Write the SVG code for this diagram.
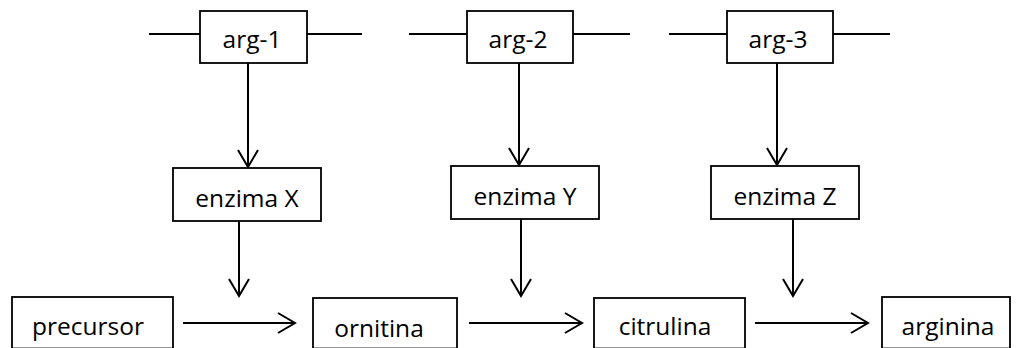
<svg xmlns="http://www.w3.org/2000/svg" width="1016" height="348" viewBox="0 0 1016 348">
<style>
rect{fill:#fff;stroke:#000;stroke-width:1.8}
line,polyline{stroke:#000;stroke-width:2;fill:none}
text{font-family:"Open Sans","Liberation Sans",sans-serif;font-size:24.5px;fill:#000;text-anchor:middle}
</style>
<defs>
<marker id="ah" markerWidth="24" markerHeight="24" refX="20" refY="12" orient="auto" markerUnits="userSpaceOnUse">
<polyline points="3,2 20,12 3,22" style="stroke:#000;stroke-width:2;fill:none"/>
</marker>
</defs>
<g id="connectors">
<line x1="149" y1="34" x2="200" y2="34"/>
<line x1="307" y1="34" x2="362" y2="34"/>
<line x1="409" y1="34" x2="467" y2="34"/>
<line x1="573" y1="34" x2="630" y2="34"/>
<line x1="669" y1="34" x2="727" y2="34"/>
<line x1="833" y1="34" x2="890" y2="34"/>
<line x1="248" y1="63" x2="248" y2="167" marker-end="url(#ah)"/>
<line x1="519" y1="63" x2="519" y2="165" marker-end="url(#ah)"/>
<line x1="777" y1="63" x2="777" y2="165" marker-end="url(#ah)"/>
<line x1="239" y1="221" x2="239" y2="296" marker-end="url(#ah)"/>
<line x1="521" y1="219" x2="521" y2="296" marker-end="url(#ah)"/>
<line x1="793" y1="219" x2="793" y2="296" marker-end="url(#ah)"/>
<line x1="183" y1="323" x2="295" y2="323" marker-end="url(#ah)"/>
<line x1="469" y1="323" x2="582" y2="323" marker-end="url(#ah)"/>
<line x1="755" y1="323" x2="868" y2="323" marker-end="url(#ah)"/>
</g>
<g id="arg1"><rect x="200" y="11" width="107" height="52"/><text x="252" y="48">arg-1</text></g>
<g id="arg2"><rect x="467" y="11" width="106" height="52"/><text x="518" y="48">arg-2</text></g>
<g id="arg3"><rect x="727" y="11" width="106" height="52"/><text x="778" y="48">arg-3</text></g>
<g id="enzimaX"><rect x="173" y="168" width="148" height="53"/><text x="247" y="207">enzima X</text></g>
<g id="enzimaY"><rect x="451" y="166" width="148" height="53"/><text x="525" y="205">enzima Y</text></g>
<g id="enzimaZ"><rect x="711" y="166" width="148" height="53"/><text x="785" y="205">enzima Z</text></g>
<g id="precursor"><rect x="12" y="297" width="161" height="51.5"/><text x="88" y="335">precursor</text></g>
<g id="ornitina"><rect x="313" y="298" width="144" height="50.5"/><text x="379" y="337">ornitina</text></g>
<g id="citrulina"><rect x="594" y="298" width="151" height="50.5"/><text x="665" y="335">citrulina</text></g>
<g id="arginina"><rect x="882" y="297" width="128" height="51.5"/><text x="948" y="335">arginina</text></g>
</svg>
